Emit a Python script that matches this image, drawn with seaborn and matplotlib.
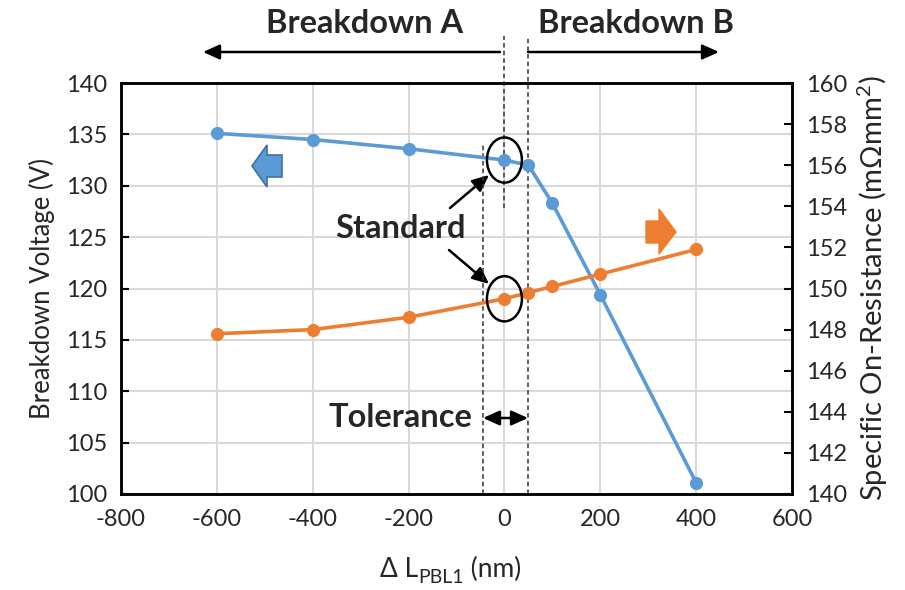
import matplotlib
matplotlib.use("Agg")
import matplotlib.pyplot as plt
import matplotlib.transforms as mtransforms
from matplotlib.patches import Ellipse, Polygon
from matplotlib.ticker import MultipleLocator, FixedLocator
import pandas as pd
import seaborn as sns

# Gate-extension sweep: breakdown voltage and specific on-resistance
delta_l = [-600, -400, -200, 0, 50, 100, 200, 400]
breakdown_v = [135.1, 134.5, 133.6, 132.5, 132.0, 128.3, 119.4, 101.1]
ron_sp = [147.8, 148.0, 148.6, 149.5, 149.8, 150.1, 150.7, 151.9]

x_ticks = [-800, -600, -400, -200, 0, 200, 400, 600]
left_ticks = [100, 105, 110, 115, 120, 125, 130, 135, 140]
right_ticks = [140, 142, 144, 146, 148, 150, 152, 154, 156, 158, 160]

BLUE = "#5B9BD5"
BLUE_EDGE = "#41719C"
ORANGE = "#ED7D31"
GRID = "#D9D9D9"

sns.set_style("white")
plt.rcParams["font.family"] = ["Lato", "DejaVu Sans"]
plt.rcParams["mathtext.fontset"] = "custom"
plt.rcParams["mathtext.rm"] = "Lato"
plt.rcParams["mathtext.it"] = "Lato:italic"
plt.rcParams["mathtext.bf"] = "Lato:bold"

W, H = 905, 590
fig = plt.figure(figsize=(W / 100, H / 100), dpi=100)
ax = fig.add_axes([121 / W, 1 - 494 / H, (792 - 121) / W, (494 - 83) / H])
ax2 = ax.twinx()

# pixel-space transform (origin top-left) for free-floating shapes
px = mtransforms.Affine2D().scale(1 / W, -1 / H).translate(0, 1) + fig.transFigure

df = pd.DataFrame({"dl": delta_l, "bv": breakdown_v, "ron": ron_sp})

sns.lineplot(data=df, x="dl", y="bv", ax=ax, color=BLUE, lw=2.6,
             marker="o", markersize=9.5, markeredgewidth=0, zorder=5)
sns.lineplot(data=df, x="dl", y="ron", ax=ax2, color=ORANGE, lw=2.6,
             marker="o", markersize=9.5, markeredgewidth=0, zorder=5)

ax.set_xlim(-800, 600)
ax.set_ylim(100, 140)
ax2.set_ylim(140, 160)

ax.xaxis.set_major_locator(FixedLocator(x_ticks))
ax.xaxis.set_minor_locator(MultipleLocator(100))
ax.yaxis.set_major_locator(FixedLocator(left_ticks))
ax2.yaxis.set_major_locator(FixedLocator(right_ticks))
ax.set_xticklabels([str(v) for v in x_ticks])
ax.set_yticklabels([str(v) for v in left_ticks])
ax2.set_yticklabels([str(v) for v in right_ticks])

fs = 17
ax.tick_params(axis="x", which="both", direction="in", length=6, width=1.5,
               labelsize=fs, pad=11, color="black")
ax.tick_params(axis="y", direction="in", length=6, width=1.5, labelsize=fs,
               pad=10, color="black")
ax2.tick_params(axis="y", direction="in", length=6, width=1.5, labelsize=fs,
                pad=10, color="black")

ax.grid(True, which="major", color=GRID, lw=1.5)
ax.set_axisbelow(True)
for a in (ax, ax2):
    for s in a.spines.values():
        s.set_color("black")
        s.set_linewidth(1.8)

ax.set_xlabel("")
ax.set_ylabel("Breakdown Voltage (V)", fontsize=18.5, labelpad=8)
ax2.set_ylabel(r"Specific On-Resistance (mΩmm$^{2}$)", fontsize=21, labelpad=6)

# x-axis title with a true subscript, assembled piece by piece
renderer = fig.canvas.get_renderer()
x_cursor = 380
pieces = [("Δ L", 19, 0), ("PBL1", 14, 6), (" (nm)", 19, 0)]
for txt, size, drop in pieces:
    t = fig.text(x_cursor / W, 1 - (577 + drop) / H, txt, fontsize=size,
                 ha="left", va="baseline")
    bb = t.get_window_extent(renderer=renderer)
    x_cursor += bb.width

# tolerance window and boundaries
dash = dict(ls=(0, (3, 2)), color="#333333", lw=1.1, clip_on=False, zorder=4)
ax.plot([-45, -45], [100, 134.0], **dash)
ax.plot([0, 0], [127.8, 144.6], **dash)
ax.plot([50, 50], [100, 144.6], **dash)

# standard-condition markers
ax.add_patch(Ellipse((0, breakdown_v[3]), 73, 4.4, fill=False, lw=1.8,
                     color="black", zorder=6))
ax2.add_patch(Ellipse((0, ron_sp[3]), 73, 2.2, fill=False, lw=1.8,
                      color="black", zorder=6))

bold = dict(fontsize=23.5, fontweight="bold", ha="center", va="baseline")
fig.text(365 / W, 1 - 33 / H, "Breakdown A", **bold)
fig.text(636 / W, 1 - 33 / H, "Breakdown B", **bold)
fig.text(400 / W, 1 - 238 / H, "Standard", **bold)
fig.text(400 / W, 1 - 427 / H, "Tolerance", **bold)

arr = dict(arrowstyle="-|>,head_length=1.0,head_width=0.45", color="black",
           lw=1.8, shrinkA=0, shrinkB=0)
ax.annotate("", xy=(203, 52), xytext=(500, 52), xycoords=px, textcoords=px,
            arrowprops=arr, annotation_clip=False)
ax.annotate("", xy=(719, 52), xytext=(528, 52), xycoords=px, textcoords=px,
            arrowprops=arr, annotation_clip=False)
ax.annotate("", xy=(489, 175), xytext=(450, 208), xycoords=px, textcoords=px,
            arrowprops=arr, annotation_clip=False)
ax.annotate("", xy=(489, 284), xytext=(449, 250), xycoords=px, textcoords=px,
            arrowprops=arr, annotation_clip=False)
ax.annotate("", xy=(483, 418), xytext=(528, 418), xycoords=px, textcoords=px,
            arrowprops=dict(arrowstyle="<|-|>,head_length=1.0,head_width=0.45",
                            color="black", lw=1.8, shrinkA=0, shrinkB=0),
            annotation_clip=False)

# axis-pointer block arrows
left_block = [(252, 166), (267, 145), (267, 155), (282, 155), (282, 177),
              (267, 177), (267, 187)]
fig.add_artist(Polygon(left_block, closed=True, transform=px,
                       facecolor=BLUE, edgecolor=BLUE_EDGE, lw=1.2))
right_block = [(676, 232), (659, 209), (659, 221), (646, 221), (646, 243),
               (659, 243), (659, 254)]
fig.add_artist(Polygon(right_block, closed=True, transform=px,
                       facecolor=ORANGE, edgecolor=ORANGE, lw=1.0))

fig.savefig("out.png", dpi=100)
